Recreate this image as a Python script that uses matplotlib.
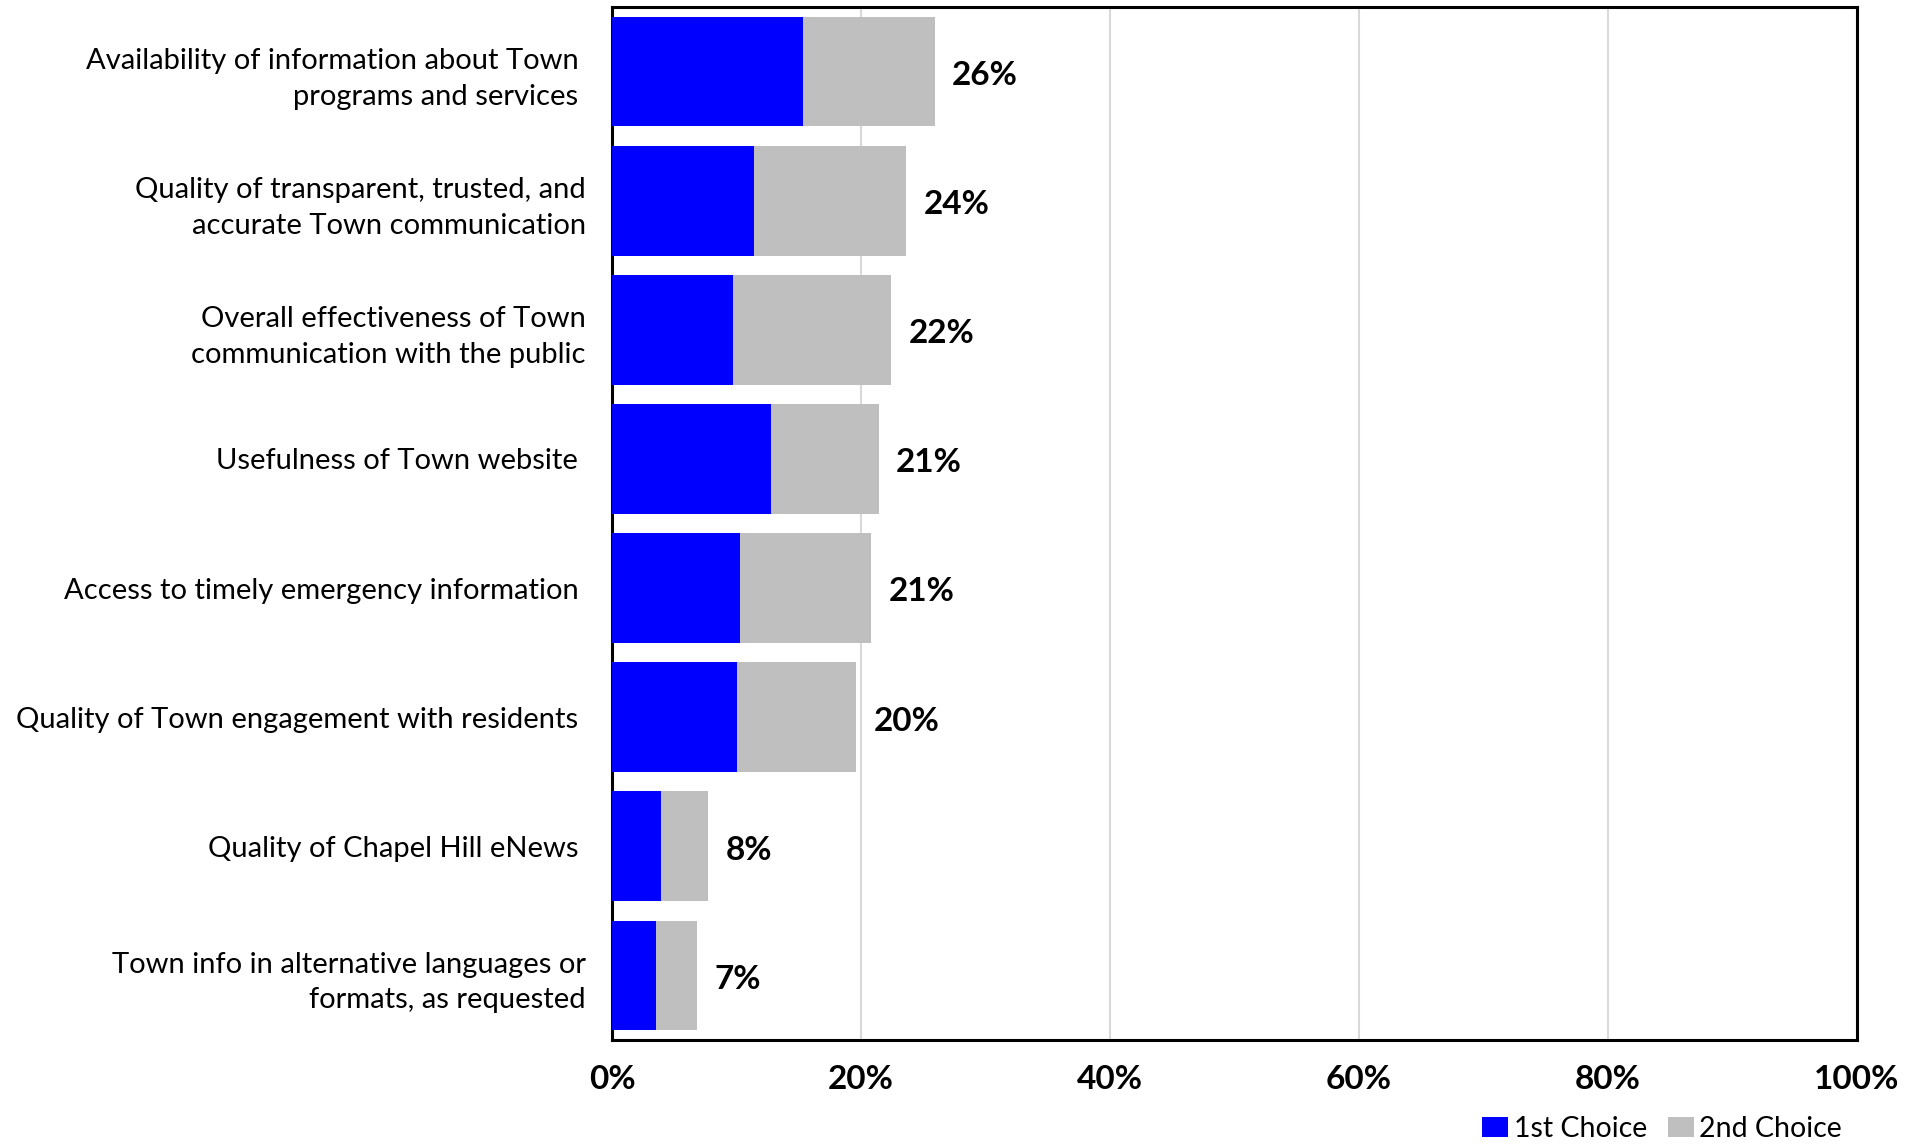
import matplotlib
matplotlib.use("Agg")
import matplotlib.pyplot as plt
import numpy as np

plt.rcParams['font.family'] = ['Lato', 'DejaVu Sans']

# --- datos de la encuesta (porcentaje de residentes) ---
categorias = [
    "Availability of information about Town \nprograms and services ",
    "Quality of transparent, trusted, and\naccurate Town communication",
    "Overall effectiveness of Town\ncommunication with the public",
    "Usefulness of Town website ",
    "Access to timely emergency information ",
    "Quality of Town engagement with residents ",
    "Quality of Chapel Hill eNews ",
    "Town info in alternative languages or\nformats, as requested",
]
primera = [15.3, 11.4, 9.7, 12.8, 10.3, 10.0, 3.9, 3.5]
segunda = [10.6, 12.2, 12.7, 8.6, 10.5, 9.6, 3.8, 3.3]
ticks_x = [0, 20, 40, 60, 80, 100]

azul = '#0000ff'
gris = '#bfbfbf'

fig = plt.figure(figsize=(19.25, 11.47), dpi=100)
ax = fig.add_axes([0.318, 0.0933, 0.6466, 0.9006])

y = np.arange(len(categorias))[::-1]
total = np.array(primera) + np.array(segunda)

ax.barh(y, primera, height=0.85, color=azul, label='1st Choice', zorder=3)
ax.barh(y, segunda, left=primera, height=0.85, color=gris, label='2nd Choice', zorder=3)

# etiquetas con el total de cada barra
for yi, t in zip(y, total):
    ax.text(t + 1.4, yi - 0.03, f"{t:.0f}%", va='center', ha='left',
            fontsize=24, fontweight='bold')

ax.set_xlim(0, 100)
ax.set_ylim(-0.5, len(categorias) - 0.5)
ax.set_xticks(ticks_x)
ax.set_xticklabels([f"{v}%" for v in ticks_x], fontsize=24, fontweight='bold')
ax.set_yticks(y)
ax.set_yticklabels(categorias, fontsize=21, linespacing=1.45)
ax.tick_params(axis='both', length=0)
ax.tick_params(axis='x', pad=18)
ax.tick_params(axis='y', pad=19)

ax.grid(axis='x', color='#d9d9d9', linewidth=1.5, zorder=0)
for s in ax.spines.values():
    s.set_linewidth(2.2)
    s.set_color('black')

fig.legend(loc='center right', bbox_to_anchor=(0.957, 0.016), ncol=2,
           frameon=False, fontsize=20.5, handlelength=0.9, handleheight=0.7,
           handletextpad=0.2, columnspacing=0.75, borderpad=0, borderaxespad=0)

fig.savefig('out.png', dpi=100)
plt.close(fig)
